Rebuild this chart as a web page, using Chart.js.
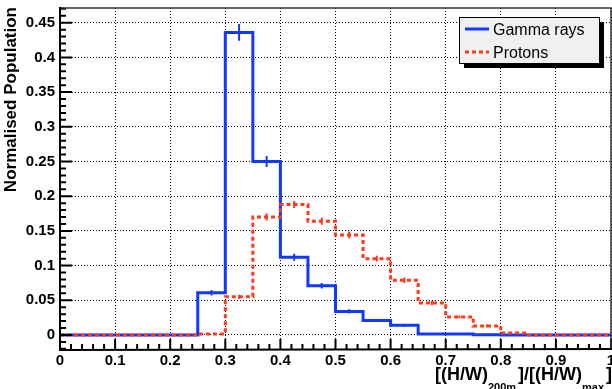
<!DOCTYPE html>
<html>
<head>
<meta charset="utf-8">
<script src="https://cdn.jsdelivr.net/npm/chart.js@4"></script>
<style>
  html, body { margin: 0; padding: 0; background: #fff; }
  canvas { display: block; }
</style>
</head>
<body>
<canvas id="chart1" width="612" height="389"></canvas>
<script>
// -- THE DATA --

// bin edges (21 edges -> 20 bins of width 0.05)
const bin_edges = [
  0,0.05,0.1,0.15,0.2,0.25,0.3,0.35,0.4,0.45,0.5,
  0.55,0.6,0.65,0.7,0.75,0.8,0.85,0.9,0.95,1
];

const gamma_values = [
  0,0,0,0,0,0.061,0.436,0.25,0.112,0.071,
  0.034,0.021,0.014,0.0015,0.0015,0.0005,0,0,0,0
];
const gamma_errors = [
  0,0,0,0,0,0.004,0.012,0.008,0.005,0.004,
  0.003,0.002,0.002,0,0,0,0,0,0,0
];

const proton_values = [
  0,0,0,0,0,0.0015,0.055,0.17,0.188,0.164,
  0.144,0.11,0.079,0.046,0.026,0.013,0.003,0,0,0
];
const proton_errors = [
  0,0,0,0,0,0,0.003,0.005,0.005,0.005,
  0.005,0.004,0.004,0.003,0.002,0.002,0,0,0,0
];

const series_labels = ["Gamma rays", "Protons"];

const x_ticks = [0,0.1,0.2,0.3,0.4,0.5,0.6,0.7,0.8,0.9,1];
const x_tick_labels = ["0","0.1","0.2","0.3","0.4","0.5","0.6","0.7","0.8","0.9","1"];
const y_ticks = [0,0.05,0.1,0.15,0.2,0.25,0.3,0.35,0.4,0.45];
const y_tick_labels = ["0","0.05","0.1","0.15","0.2","0.25","0.3","0.35","0.4","0.45"];

const y_title = "Normalised Population";
// x title pieces, subscript flag
const x_title = [
  ["[(H/W)", false], ["200m", true], ["]/[(H/W)", false], ["max", true], ["]", false]
];

// -- HELPERS --

const FONT = "'Liberation Sans', Arial, Helvetica, sans-serif";
const BLUE = '#1238ff';
const RED = '#ff3a1c';

function stepPoints(vals) {
  const pts = vals.map((v, i) => ({x: bin_edges[i], y: v}));
  pts.push({x: bin_edges[vals.length], y: vals[vals.length - 1]});
  return pts;
}

function errorPoints(vals, errs) {
  const pts = [];
  vals.forEach((v, i) => {
    if (!errs[i]) return;
    const c = (bin_edges[i] + bin_edges[i + 1]) / 2;
    pts.push({x: c, y: v - errs[i]}, {x: c, y: v + errs[i]}, {x: c, y: null});
  });
  return pts;
}

// -- PLUGINS --

const frame_plugin = {
  id: 'frame',
  afterDatasetsDraw(chart) {
    const {ctx, chartArea: a, scales: {x, y}} = chart;
    ctx.save();
    ctx.strokeStyle = '#000';
    // minor / major ticks pointing inward
    ctx.lineWidth = 2;
    ctx.beginPath();
    for (let k = -2; k <= 47; k++) {
      const py = y.getPixelForValue(k / 100);
      if (py < a.top || py > a.bottom) continue;
      const len = k % 5 === 0 ? 12 : 6;
      ctx.moveTo(a.left, py);
      ctx.lineTo(a.left + len, py);
    }
    for (let k = 0; k <= 50; k++) {
      const px = x.getPixelForValue(k / 50);
      const len = k % 5 === 0 ? 10 : 5;
      ctx.moveTo(px, a.bottom);
      ctx.lineTo(px, a.bottom - len);
    }
    ctx.stroke();
    // top and right frame
    ctx.strokeStyle = '#333';
    ctx.lineWidth = 1.5;
    ctx.beginPath();
    ctx.moveTo(a.left, a.top);
    ctx.lineTo(a.right, a.top);
    ctx.lineTo(a.right, a.bottom);
    ctx.stroke();
    // axes
    ctx.strokeStyle = '#000';
    ctx.lineWidth = 2;
    ctx.beginPath();
    ctx.moveTo(a.left, a.top - 1);
    ctx.lineTo(a.left, a.bottom + 1);
    ctx.lineTo(a.right + 1, a.bottom);
    ctx.stroke();
    ctx.restore();
  },
  afterDraw(chart) {
    const ctx = chart.ctx;
    ctx.save();
    ctx.fillStyle = '#000';

    // y title, right aligned to top of axis
    ctx.save();
    ctx.translate(16, 7);
    ctx.rotate(-Math.PI / 2);
    ctx.font = "bold 17px " + FONT;
    ctx.textAlign = 'right';
    ctx.textBaseline = 'alphabetic';
    ctx.fillText(y_title, 0, 0);
    ctx.restore();

    // x title with subscripts
    let tx = 435;
    ctx.textAlign = 'left';
    x_title.forEach(([t, sub]) => {
      ctx.font = sub ? "bold 11px " + FONT : "bold 18px " + FONT;
      ctx.fillText(t, tx, sub ? 391 : 380);
      tx += ctx.measureText(t).width + (sub ? 2 : 0);
    });

    // legend box
    const lx = 459, ly = 17, lw = 140, lh = 46;
    ctx.fillStyle = '#000';
    ctx.fillRect(lx + 5, ly + 5, lw, lh);
    ctx.fillStyle = '#f0f0f0';
    ctx.fillRect(lx, ly, lw, lh);
    ctx.strokeStyle = '#000';
    ctx.lineWidth = 1;
    ctx.strokeRect(lx + 0.5, ly + 0.5, lw, lh);
    const ds = chart.data.datasets;
    [0, 1].forEach((i) => {
      const yy = ly + 12 + i * 23;
      ctx.save();
      ctx.strokeStyle = ds[i].borderColor;
      ctx.lineWidth = 3;
      ctx.setLineDash(ds[i].borderDash || []);
      ctx.beginPath();
      ctx.moveTo(lx + 6, yy);
      ctx.lineTo(lx + 30, yy);
      ctx.stroke();
      ctx.restore();
      ctx.fillStyle = '#000';
      ctx.font = "16px " + FONT;
      ctx.fillText(ds[i].label, lx + 34, yy + 5.5);
    });
    ctx.restore();
  }
};

// -- THE CHART --

const tick_font = {family: FONT, size: 15, weight: 'bold'};

const chart1_obj = {
  type: 'line',
  data: {
    datasets: [
      {
        label: series_labels[0],
        data: stepPoints(gamma_values),
        borderColor: BLUE,
        borderWidth: 3,
        stepped: true,
        pointRadius: 0,
        fill: false,
        order: 4
      },
      {
        label: series_labels[1],
        data: stepPoints(proton_values),
        borderColor: RED,
        borderWidth: 3,
        borderDash: [4, 3],
        stepped: true,
        pointRadius: 0,
        fill: false,
        order: 3
      },
      {
        label: 'gamma err',
        data: errorPoints(gamma_values, gamma_errors),
        borderColor: BLUE,
        borderWidth: 2,
        pointRadius: 0,
        spanGaps: false,
        order: 2
      },
      {
        label: 'proton err',
        data: errorPoints(proton_values, proton_errors),
        borderColor: RED,
        borderWidth: 2,
        pointRadius: 0,
        spanGaps: false,
        order: 1
      }
    ]
  },
  options: {
    responsive: false,
    animation: false,
    events: [],
    devicePixelRatio: 1,
    layout: {padding: {left: 0, right: 1, top: 8, bottom: 0}},
    plugins: {legend: {display: false}, tooltip: {enabled: false}},
    scales: {
      x: {
        type: 'linear',
        min: 0,
        max: 1,
        afterBuildTicks: (s) => { s.ticks = x_ticks.map(v => ({value: v})); },
        afterFit: (s) => { s.height = 40; s.paddingLeft = 0; s.paddingRight = 0; },
        ticks: {
          callback: (v, i) => x_tick_labels[i],
          font: tick_font,
          color: '#000',
          padding: 3,
          maxRotation: 0,
          autoSkip: false
        },
        grid: {color: '#000', lineWidth: 1, drawTicks: false},
        border: {display: false, dash: [1, 2]}
      },
      y: {
        type: 'linear',
        min: -0.0202,
        max: 0.4712,
        afterBuildTicks: (s) => { s.ticks = y_ticks.map(v => ({value: v})); },
        afterFit: (s) => { s.width = 60; s.paddingTop = 0; s.paddingBottom = 0; },
        ticks: {
          callback: (v, i) => y_tick_labels[i],
          font: tick_font,
          color: '#000',
          padding: 5,
          autoSkip: false
        },
        grid: {color: '#000', lineWidth: 1, drawTicks: false},
        border: {display: false, dash: [1, 2]}
      }
    }
  },
  plugins: [frame_plugin]
};

new Chart("chart1", chart1_obj);
</script>
</body>
</html>
